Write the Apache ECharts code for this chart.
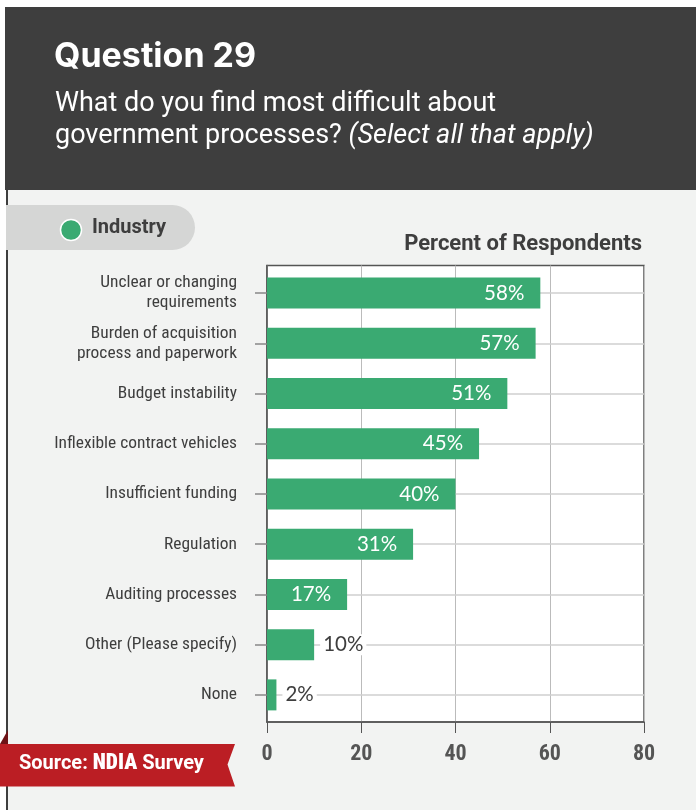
<!DOCTYPE html>
<html><head><meta charset="utf-8">
<script src="https://cdn.jsdelivr.net/npm/echarts@6/dist/echarts.min.js"></script>
<style>html,body{margin:0;padding:0;background:#fff;}#c{width:696px;height:810px;}</style>
</head><body><div id="c"></div>
<script>
const categories = ["Unclear or changing\nrequirements","Burden of acquisition\nprocess and paperwork","Budget instability","Inflexible contract vehicles","Insufficient funding","Regulation","Auditing processes","Other (Please specify)","None"];
const values = [58,57,51,45,40,31,17,10,2];
const xTicks = [0,20,40,60,80];
const seriesName = "Industry";
const axisTitle = "Percent of Respondents";

const chart = echarts.init(document.getElementById('c'), null, {renderer:'canvas'});
const GREEN = '#3aaa72';
const condensed = '"Roboto Condensed",Roboto,sans-serif';
chart.setOption({
  animation:false,
  backgroundColor:'#ffffff',
  graphic:[
    {type:'rect', shape:{x:6,y:7,width:690,height:803}, style:{fill:'#f2f3f2'}, z:-10},
    {type:'rect', shape:{x:5,y:7,width:691,height:183}, style:{fill:'#3e3e3e'}, z:-9},
    {type:'rect', shape:{x:6,y:190,width:2,height:620}, style:{fill:'#3e3e3e'}, z:-9},
    {type:'text', left:54, top:40, style:{text:'Question 29', fill:'#fff', font:'bold 34px Inter,"Open Sans",sans-serif'}},
    {type:'text', left:55, top:91, style:{text:'What do you find most difficult about', fill:'#fff', font:'27px Roboto,sans-serif'}},
    {type:'text', left:55, top:123, style:{rich:{a:{fill:'#fff',font:'27px Roboto,sans-serif'},b:{fill:'#fff',font:'italic 27px Roboto,sans-serif'}}, text:'{a|government processes? }{b|(Select all that apply)}'}},
    {type:'rect', shape:{x:6,y:205,width:189,height:45,r:[0,23,23,0]}, style:{fill:'#d5d6d5'}},
    {type:'circle', shape:{cx:71,cy:230,r:10.5}, style:{fill:GREEN, stroke:'#fff', lineWidth:1.5}},
    {type:'text', left:92, top:218, style:{text:seriesName, fill:'#3e3e3e', font:'bold 20px Roboto,sans-serif'}},
    {type:'text', right:54, top:233, style:{text:axisTitle, fill:'#3e3e3e', font:'bold 22px Roboto,sans-serif'}},
    {type:'polygon', shape:{points:[[0,744],[8,730],[8,744]]}, style:{fill:'#6e1216'}, z:5},
    {type:'polygon', shape:{points:[[0,744],[235,744],[227.5,764.5],[235,786.5],[0,786.5]]}, style:{fill:'#bb1e24'}, z:5},
    {type:'text', left:19, top:753, z:6, style:{rich:{a:{fill:'#fff',font:'bold 20px Roboto,sans-serif'},b:{fill:'#fff',font:'900 21.5px "Roboto Condensed",Roboto,sans-serif'}}, text:'{a|Source: }{b|NDIA}{a| Survey}'}}
  ],
  grid:[
    {left:267, top:265.5, width:377, height:456.5, show:true, backgroundColor:'#ffffff', borderColor:'#555', borderWidth:1.5},
    {left:267, top:268, width:377, height:452}
  ],
  xAxis:[
    {type:'value', gridIndex:0, min:0, max:80, interval:20,
      axisLine:{show:true, lineStyle:{color:'#555', width:1.5}},
      axisTick:{show:true, length:11, lineStyle:{color:'#555'}},
      splitLine:{show:true, lineStyle:{color:'#bbbbbb', width:1}},
      axisLabel:{margin:21, color:'#555', fontSize:22, fontWeight:'bold', fontFamily:condensed,
        formatter:v=>xTicks.includes(v)?String(v):''}},
    {type:'value', gridIndex:1, min:0, max:80, interval:20, show:false, splitLine:{show:false}}
  ],
  yAxis:[
    {type:'value', gridIndex:0, min:0, max:1, axisLine:{show:true, lineStyle:{color:'#555', width:1.5}},
      axisTick:{show:false}, axisLabel:{show:false}, splitLine:{show:false}},
    {type:'category', gridIndex:1, data:categories, inverse:true,
      axisLine:{show:false},
      axisTick:{show:true, length:12, alignWithLabel:true, lineStyle:{color:'#888', width:1.5}},
      splitLine:{show:false},
      axisLabel:{margin:30, color:'#3e3e3e', fontSize:17.4, fontFamily:condensed, align:'right', lineHeight:20}}
  ],
  series:[
    {type:'bar', name:seriesName, xAxisIndex:1, yAxisIndex:1,
     data:values.map(v=>({value:v, label: v>=15 ?
        {position:'insideRight', distance:16, color:'#fff'} :
        {position:'right', distance:6, color:'#3e3e3e', backgroundColor:'#fff', padding:[0,3]}})),
     barWidth:31, itemStyle:{color:GREEN},
     label:{show:true, formatter:'{c}%', fontSize:20.5, fontFamily:'Lato,"Open Sans",sans-serif'},
     markLine:{silent:true, symbol:'none', label:{show:false}, lineStyle:{color:'#cfcfcf', width:1.5, type:'solid'}, z:1,
       data: categories.map(c=>({yAxis:c}))}
    }
  ]
});
</script></body></html>
